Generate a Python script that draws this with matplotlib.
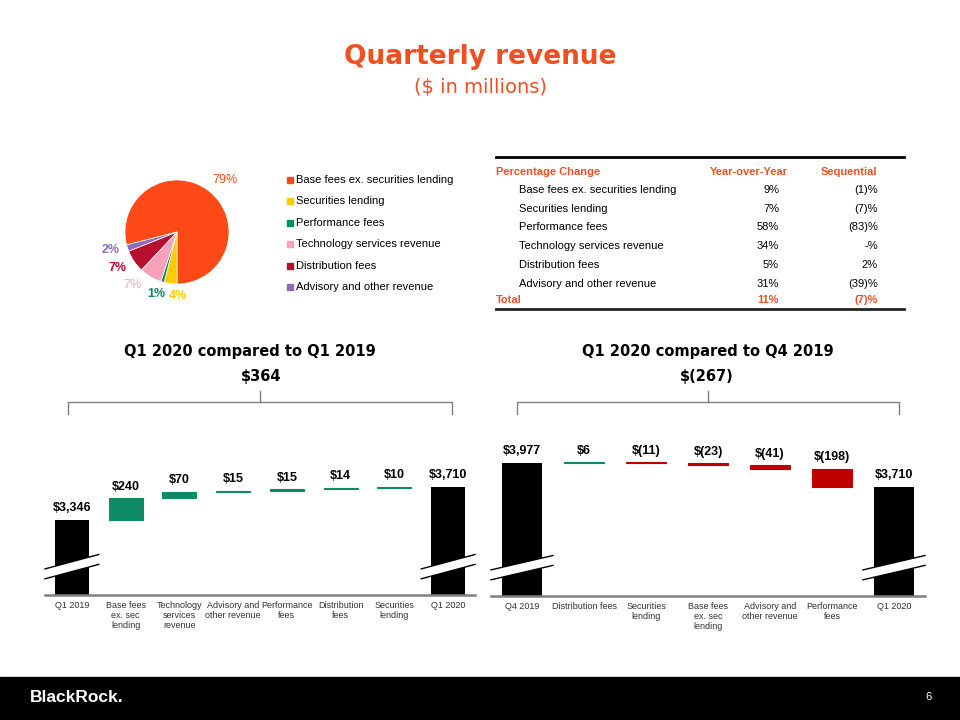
import matplotlib
matplotlib.use("Agg")
from matplotlib import pyplot as plt
from matplotlib.patches import Rectangle, Polygon
from matplotlib.lines import Line2D
import matplotlib.transforms as mtransforms
import numpy as np

# data

pie_labels = ["Base fees ex. securities lending", "Securities lending", "Performance fees",
              "Technology services revenue", "Distribution fees", "Advisory and other revenue"]
pie_pcts = [79, 4, 1, 7, 7, 2]

table_rows = ["Base fees ex. securities lending", "Securities lending", "Performance fees",
              "Technology services revenue", "Distribution fees", "Advisory and other revenue"]
table_yoy = ["9%", "7%", "58%", "34%", "5%", "31%"]
table_seq = ["(1)%", "(7)%", "(83)%", "-%", "2%", "(39)%"]
total_yoy = "11%"
total_seq = "(7)%"

yoy_cats = ["Q1 2019", "Base fees\nex. sec\nlending", "Technology\nservices\nrevenue",
            "Advisory and\nother revenue", "Performance\nfees", "Distribution\nfees",
            "Securities\nlending", "Q1 2020"]
yoy_start = 3346
yoy_steps = [240, 70, 15, 15, 14, 10]
yoy_end = 3710
yoy_diff = "$364"

seq_cats = ["Q4 2019", "Distribution fees", "Securities\nlending", "Base fees\nex. sec\nlending",
            "Advisory and\nother revenue", "Performance\nfees", "Q1 2020"]
seq_start = 3977
seq_steps = [6, -11, -23, -41, -198]
seq_end = 3710
seq_diff = "$(267)"

# styles
ORANGE = "#F04E23"
PIE_COLORS = ["#FF4A17", "#FFCC00", "#0E8A5F", "#F7A1BA", "#B50E2E", "#8E6BB8"]
GREEN = "#0E8A64"
RED = "#C00000"
GRAY = "#808080"
FONT = "Liberation Sans"

W, H = 960, 720
fig = plt.figure(figsize=(9.6, 7.2), dpi=100)


def fx(x):
    return x / W


def fy(y):
    return 1 - y / H


# title
fig.text(0.5, fy(57), "Quarterly revenue", ha="center", va="center", color=ORANGE,
         fontsize=19, fontweight="bold", family="DejaVu Sans")
fig.text(0.5, fy(88), "($ in millions)", ha="center", va="center", color=ORANGE,
         fontsize=14, family="DejaVu Sans")

# pie
pax = fig.add_axes([fx(125), fy(284), fx(104), 104 / H])
wedges, _ = pax.pie(pie_pcts, colors=PIE_COLORS, startangle=194.4, counterclock=False,
                    wedgeprops=dict(edgecolor="white", linewidth=0.5))
pax.set_xlim(-1, 1)
pax.set_ylim(-1, 1)
pax.set_aspect("equal")
# label placement (radius, angle shift from wedge middle)
label_r = [1.36, 1.23, 1.26, 1.33, 1.34, 1.32]
label_da = [-4.8, 8.2, -2.4, -9.2, -3.2, -2.6]
label_w = ["normal", "bold", "bold", "normal", "bold", "bold"]
for w, p, c, r, da, fw in zip(wedges, pie_pcts, PIE_COLORS, label_r, label_da, label_w):
    a = np.deg2rad((w.theta1 + w.theta2) / 2 + da)
    pax.text(r * np.cos(a), r * np.sin(a), f"{p}%", ha="center", va="center", color=c,
             fontsize=9, fontweight=fw, family=FONT, clip_on=False)

# legend
for i, (lab, c) in enumerate(zip(pie_labels, PIE_COLORS)):
    yy = 180 + i * 21.4
    fig.patches.append(Rectangle((fx(287), fy(yy + 3)), fx(6), 6 / H, color=c,
                                 transform=fig.transFigure, figure=fig))
    fig.text(fx(296), fy(yy), lab, ha="left", va="center", fontsize=8, family=FONT)

# table
fig.add_artist(Line2D([fx(496), fx(904)], [fy(157), fy(157)], color="black", lw=2))
fig.add_artist(Line2D([fx(496), fx(904)], [fy(309), fy(309)], color="#222222", lw=2))
fig.text(fx(496), fy(172), "Percentage Change", ha="left", va="center", color=ORANGE,
         fontsize=8, fontweight="bold", family=FONT)
fig.text(fx(788), fy(172), "Year-over-Year", ha="right", va="center", color=ORANGE,
         fontsize=8, fontweight="bold", family=FONT)
fig.text(fx(877), fy(172), "Sequential", ha="right", va="center", color=ORANGE,
         fontsize=8, fontweight="bold", family=FONT)
for i, (r, a, b) in enumerate(zip(table_rows, table_yoy, table_seq)):
    yy = 190 + i * 18.7
    fig.text(fx(519), fy(yy), r, ha="left", va="center", fontsize=8, family=FONT)
    fig.text(fx(779), fy(yy), a, ha="right", va="center", fontsize=8, family=FONT)
    fig.text(fx(878), fy(yy), b, ha="right", va="center", fontsize=8, family=FONT)
fig.text(fx(496), fy(300), "Total", ha="left", va="center", color=ORANGE,
         fontsize=8, fontweight="bold", family=FONT)
fig.text(fx(779), fy(300), total_yoy, ha="right", va="center", color=ORANGE,
         fontsize=8, fontweight="bold", family=FONT)
fig.text(fx(878), fy(300), total_seq, ha="right", va="center", color=ORANGE,
         fontsize=8, fontweight="bold", family=FONT)


def money(v):
    if v < 0:
        return "$({:,})".format(-v)
    return "${:,}".format(v)


def waterfall(rect, ybot, cats, start, steps, end, barw, title, diff, title_x, diff_x):
    ax = fig.add_axes(rect)
    n = len(cats)
    ytop = ybot + rect[3] * H / 0.09
    ax.set_xlim(-0.5, n - 0.5)
    ax.set_ylim(ybot, ytop)
    for s in ["top", "left", "right"]:
        ax.spines[s].set_visible(False)
    ax.spines["bottom"].set_color(GRAY)
    ax.spines["bottom"].set_linewidth(1.8)
    ax.set_yticks([])
    ax.set_xticks(range(n))
    ax.set_xticklabels(cats, fontsize=6.5, family=FONT, color="#333333", linespacing=1.15)
    ax.tick_params(axis="x", length=0, pad=4)

    ax.bar(0, start - ybot, bottom=ybot, width=barw, color="black")
    ax.bar(n - 1, end - ybot, bottom=ybot, width=barw, color="black")
    lab = dict(ha="center", va="bottom", fontsize=9, fontweight="bold", family=FONT,
               textcoords="offset points", annotation_clip=False)
    ax.annotate(money(start), (0, start), xytext=(0, 4), **lab)
    ax.annotate(money(end), (n - 1, end), xytext=(0, 4), **lab)
    level = start
    for i, s in enumerate(steps, start=1):
        c = GREEN if s > 0 else RED
        ax.bar(i, s, bottom=level, width=barw, color=c, edgecolor=c, linewidth=0.8)
        ax.annotate(money(s), (i, max(level, level + s)), xytext=(0, 4), **lab)
        level += s

    # axis break marks
    for xi in [0, n - 1]:
        x0, x1 = xi - 0.5, xi + 0.5
        y0 = ybot + 180
        sl = 160
        gap = 110
        ax.add_patch(Polygon([(x0, y0), (x1, y0 + sl), (x1, y0 + sl + gap), (x0, y0 + gap)],
                             closed=True, facecolor="white", edgecolor="none", clip_on=False))
        ax.plot([x0, x1], [y0, y0 + sl], color="black", lw=1, clip_on=False)
        ax.plot([x0, x1], [y0 + gap, y0 + sl + gap], color="black", lw=1, clip_on=False)

    # bracket
    tr = mtransforms.blended_transform_factory(ax.transData, fig.transFigure)
    xl, xr = -0.08, n - 1 + 0.08
    xm = (xl + xr) / 2
    ax.add_artist(Line2D([xl, xl, xr, xr], [fy(414), fy(402), fy(402), fy(414)],
                         color=GRAY, lw=1, transform=tr, clip_on=False))
    ax.add_artist(Line2D([xm, xm], [fy(402), fy(391)], color=GRAY, lw=1, transform=tr,
                         clip_on=False))
    fig.text(fx(diff_x), fy(377), diff, ha="center", va="center", fontsize=10.5,
             fontweight="bold", family="DejaVu Sans")
    fig.text(fx(title_x), fy(351), title, ha="center", va="center", fontsize=10.5,
             fontweight="bold", family="DejaVu Sans")
    return ax


waterfall([fx(45), fy(595), fx(430), 175 / H], 2510, yoy_cats, yoy_start, yoy_steps, yoy_end,
          0.63, "Q1 2020 compared to Q1 2019", yoy_diff, 250, 261)
waterfall([fx(491), fy(596), fx(434), 176 / H], 2496, seq_cats, seq_start, seq_steps, seq_end,
          0.64, "Q1 2020 compared to Q4 2019", seq_diff, 708, 707)

# footer
fig.patches.append(Rectangle((0, 0), 1, 43 / H, color="black", transform=fig.transFigure,
                             figure=fig))
fig.text(fx(30), fy(698), "BlackRock.", ha="left", va="center", color="white", fontsize=12.5,
         fontweight="bold", family=FONT)
fig.text(fx(929), fy(697), "6", ha="center", va="center", color="white", fontsize=8,
         family=FONT)

fig.savefig("out.png", dpi=100)
